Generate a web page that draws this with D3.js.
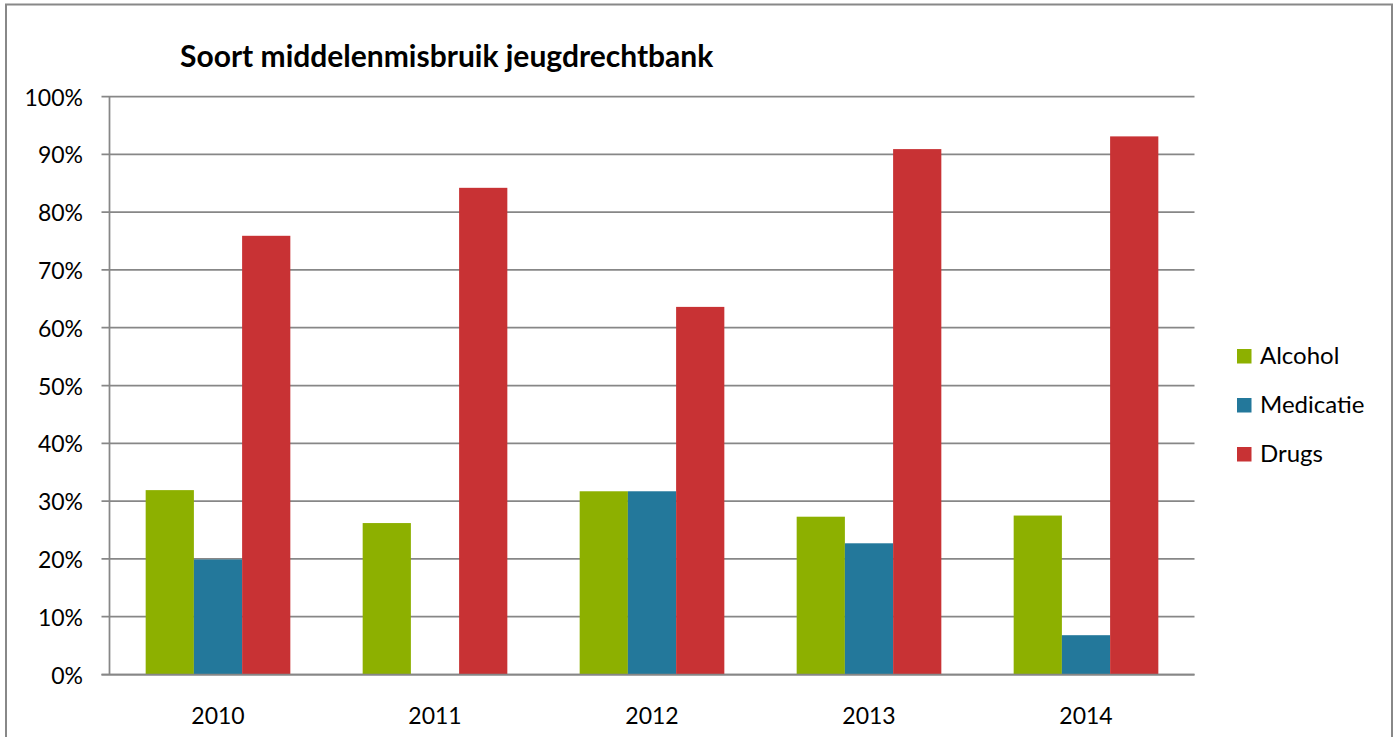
<!DOCTYPE html>
<html>
<head>
<meta charset="utf-8">
<script src="https://cdn.jsdelivr.net/npm/d3@7"></script>
<style>
  html, body { margin: 0; padding: 0; background: #fff; }
  svg { display: block; }
  text { font-family: Lato, "Open Sans", sans-serif; fill: #000; }
</style>
</head>
<body>
<svg id="chart" width="1400" height="737"></svg>
<script>
const categories = ["2010", "2011", "2012", "2013", "2014"];
const seriesNames = ["Alcohol", "Medicatie", "Drugs"];
const alcohol = [31.9, 26.2, 31.7, 27.3, 27.5];
const medicatie = [19.9, 0, 31.7, 22.7, 6.8];
const drugs = [75.9, 84.2, 63.6, 90.9, 93.1];
const yTicks = [0, 10, 20, 30, 40, 50, 60, 70, 80, 90, 100];
const title = "Soort middelenmisbruik jeugdrechtbank";

const seriesValues = [alcohol, medicatie, drugs];
const colors = ["#8db000", "#23789b", "#c83234"];

const svg = d3.select("#chart");
const plot = { left: 109.5, right: 1194.5, top: 96.5, bottom: 674.5 };

// outer border
svg.append("rect")
  .attr("x", 6).attr("y", 4.5)
  .attr("width", 1386).attr("height", 740)
  .attr("fill", "none").attr("stroke", "#888").attr("stroke-width", 2);

const x0 = d3.scaleBand().domain(categories).range([plot.left, plot.right]).padding(0);
const x1 = d3.scaleBand().domain(seriesNames).range([0, x0.bandwidth()])
  .paddingInner(0).paddingOuter(0.75);
const y = d3.scaleLinear().domain([0, 100]).range([plot.bottom, plot.top]);

// gridlines (extend left as tick marks)
svg.append("g").selectAll("line").data(yTicks).join("line")
  .attr("x1", plot.left - 8).attr("x2", plot.right)
  .attr("y1", d => y(d)).attr("y2", d => y(d))
  .attr("stroke", "#878787").attr("stroke-width", 1.75);

// y axis line
svg.append("line")
  .attr("x1", plot.left).attr("x2", plot.left)
  .attr("y1", y(100)).attr("y2", y(0))
  .attr("stroke", "#878787").attr("stroke-width", 1.75);

// y tick labels
svg.append("g").selectAll("text").data(yTicks).join("text")
  .attr("x", 83).attr("y", d => y(d))
  .attr("text-anchor", "end").attr("dominant-baseline", "central")
  .style("font-size", "23px")
  .text(d => d + "%");

// bars
const groups = svg.append("g").selectAll("g").data(categories).join("g")
  .attr("transform", c => `translate(${x0(c)},0)`);
groups.selectAll("rect")
  .data((c, i) => seriesNames.map((s, j) => ({ s, j, v: seriesValues[j][i] })))
  .join("rect")
  .attr("x", d => x1(d.s))
  .attr("width", x1.bandwidth())
  .attr("y", d => y(d.v))
  .attr("height", d => y(0) - y(d.v))
  .attr("fill", d => colors[d.j]);

// redraw baseline over bars
svg.append("line")
  .attr("x1", plot.left - 8).attr("x2", plot.right)
  .attr("y1", y(0)).attr("y2", y(0))
  .attr("stroke", "#878787").attr("stroke-width", 1.75);

// x labels
svg.append("g").selectAll("text").data(categories).join("text")
  .attr("x", c => x0(c) + x0.bandwidth() / 2)
  .attr("y", 724)
  .attr("text-anchor", "middle")
  .style("font-size", "23px")
  .text(c => c);

// title
svg.append("text")
  .attr("x", 180).attr("y", 67)
  .style("font-size", "30px").style("font-weight", "bold")
  .text(title);

// legend
const legendY = d3.scalePoint().domain(seriesNames).range([356, 454]);
const lg = svg.append("g").selectAll("g").data(seriesNames).join("g")
  .attr("transform", s => `translate(1237,${legendY(s)})`);
lg.append("rect")
  .attr("x", 0).attr("y", -7).attr("width", 14.5).attr("height", 14.5)
  .attr("fill", (s, i) => colors[i]);
lg.append("text")
  .attr("x", 23).attr("y", 8)
  .style("font-size", "24px")
  .text(s => s);
</script>
</body>
</html>
